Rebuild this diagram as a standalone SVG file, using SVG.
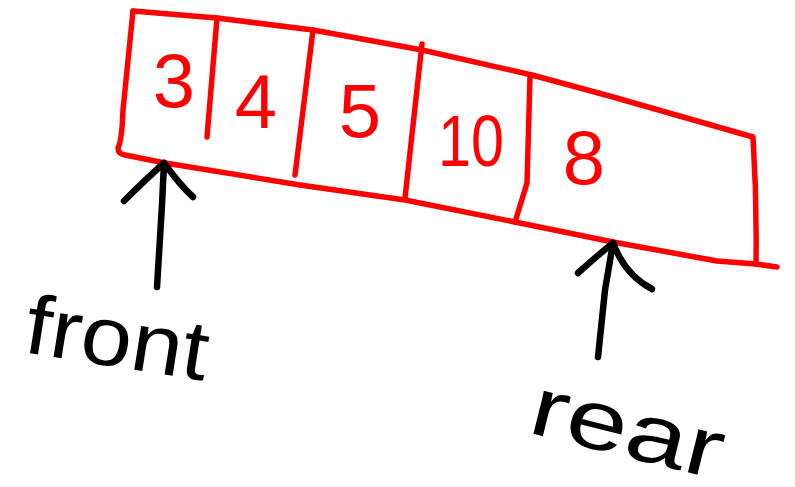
<svg xmlns="http://www.w3.org/2000/svg" width="795" height="487" viewBox="0 0 795 487">
<style>
.red{fill:none;stroke:#ff0000;stroke-width:5.5;stroke-linecap:round;stroke-linejoin:round}
.blk{fill:none;stroke:#000;stroke-width:6.5;stroke-linecap:round;stroke-linejoin:round}
.num{font-family:"Liberation Sans","DejaVu Sans",sans-serif;fill:#ff0000;font-size:76px;text-anchor:middle}
.lbl{font-family:"Liberation Sans","DejaVu Sans",sans-serif;fill:#000;font-size:84px}
</style>
<rect width="795" height="487" fill="#fff"/>
<g id="queue">
<path class="red" d="M133,11 L217,18 L313,30 L422,50 L532,75 L613,97 L753,137 Q757,200 756,264 M756,264 L777,267"/>
<path class="red" d="M133,11 Q128,60 123,110 Q122,140 118,148 Q118,154 125,155 L165,163 L300,185 L405,200 L515,222 L613,242 L717,261 L756,264"/>
</g>
<g id="cell-3">
<text class="num" x="174" y="107">3</text>
</g>
<g id="cell-4">
<path class="red" d="M217,18 L207,137"/>
<text class="num" x="256" y="128">4</text>
</g>
<g id="cell-5">
<path class="red" d="M313,30 L295,175"/>
<text class="num" x="360" y="137">5</text>
</g>
<g id="cell-10">
<path class="red" d="M422,44 L405,198"/>
<text class="num" x="471" y="166" style="font-size:72px" textLength="66" lengthAdjust="spacingAndGlyphs">10</text>
</g>
<g id="cell-8">
<path class="red" d="M530,77 L527,183 L515,222"/>
<text class="num" x="584" y="184">8</text>
</g>
<g id="connectors">
<path class="blk" d="M157,287 L162,205 L164,163"/>
<path class="blk" d="M124,201 Q145,180 164,163 Q180,185 193,197"/>
<path class="blk" d="M598,357 L605,290 L613,243"/>
<path class="blk" d="M578,273 Q598,255 613,243 Q625,275 652,289"/>
</g>
<g id="label-front">
<text class="lbl" x="22" y="352" textLength="184" lengthAdjust="spacingAndGlyphs" transform="rotate(9 22 352)">front</text>
</g>
<g id="label-rear">
<text class="lbl" x="526" y="432" textLength="196" lengthAdjust="spacingAndGlyphs" transform="rotate(14 526 432)">rear</text>
</g>
</svg>
